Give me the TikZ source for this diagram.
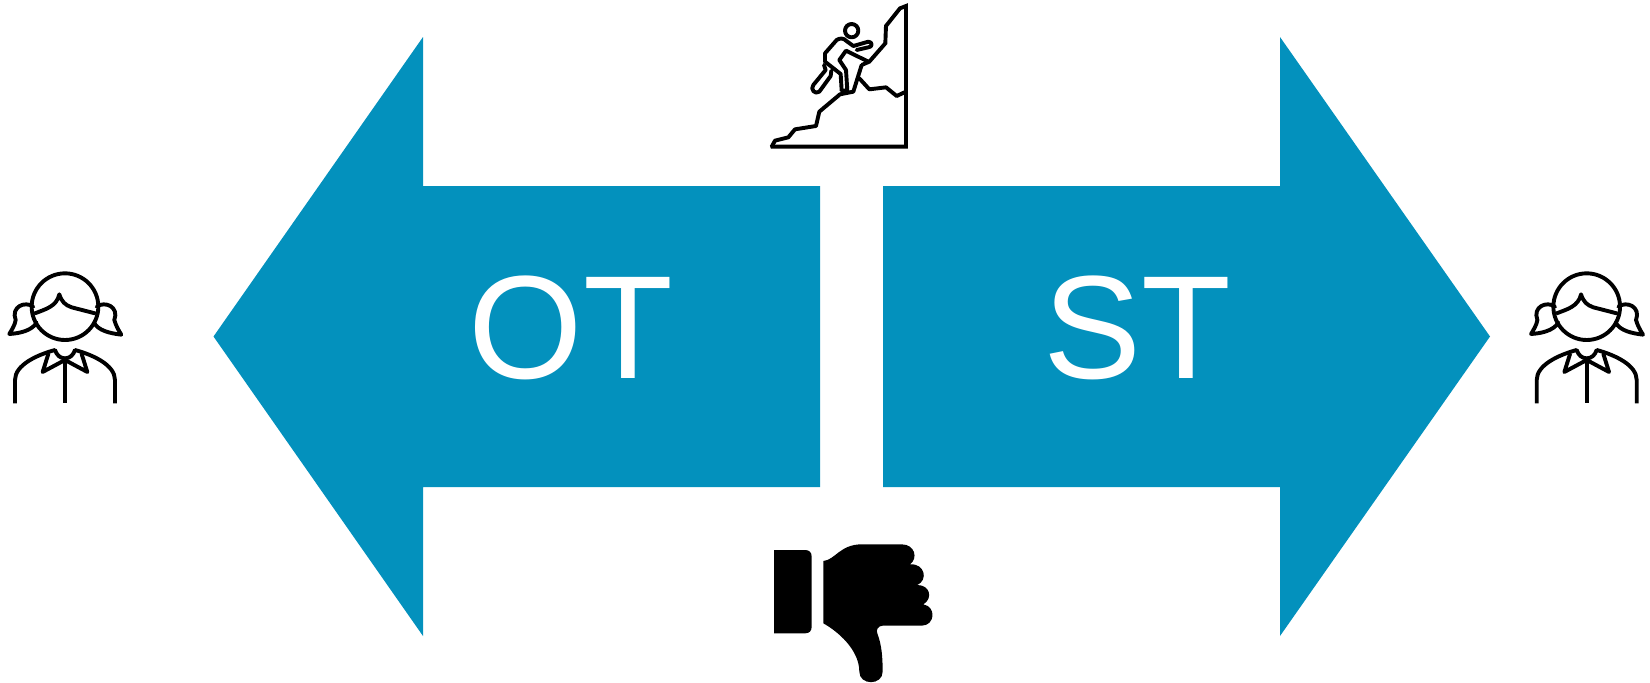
\documentclass[tikz,border=0pt]{standalone}
\usepackage{fontspec}
\setmainfont{Liberation Sans}
\definecolor{arrowblue}{HTML}{0391BD}
\tikzset{
  arrowshape/.style={fill=arrowblue,draw=none},
  bigtext/.style={text=white,inner sep=0pt,anchor=base,font=\fontsize{147}{147}\selectfont},
  iconline/.style={draw=black,line width=3.9pt,line join=round,line cap=round,fill=none},
  iconfill/.style={fill=black,draw=none},
  pics/person/.style={code={
    \draw[iconline] (195,140) circle (100);
    \draw[iconline] (105,160) .. controls (135,148) and (170,140) .. (178,103) .. controls (185,125) and (195,135) .. (215,142) -- (285,160);
    \draw[iconline] (100,140) .. controls (75,122) and (32,140) .. (47,180) .. controls (45,195) and (35,210) .. (28,222) .. controls (60,220) and (95,212) .. (110,188);
    \draw[iconline] (290,140) .. controls (315,122) and (358,140) .. (343,180) .. controls (347,195) and (355,210) .. (364,224) .. controls (330,220) and (295,212) .. (282,188);
    \draw[iconline,line cap=butt] (45,430) -- (45,360) .. controls (45,315) and (110,285) .. (165,270);
    \draw[iconline,line cap=butt] (345,430) -- (345,360) .. controls (345,315) and (280,285) .. (225,270);
    \draw[iconline] (165,270) .. controls (170,285) and (180,295) .. (195,295) .. controls (210,295) and (220,285) .. (225,270);
    \draw[iconline] (145,282) -- (128,336) -- (195,300) -- (262,336) -- (245,282);
    \draw[iconline,line cap=butt] (195,298) -- (195,430);
  }}
}
\begin{document}
\begin{tikzpicture}[x=1pt,y=-1pt]
\useasboundingbox (0,0) rectangle (1650,683);
% arrows
\fill[arrowshape] (213.5,336.5) -- (423,37) -- (423,186) -- (820,186) -- (820,487) -- (423,487) -- (423,636) -- cycle;
\fill[arrowshape] (1490,336.5) -- (1280,37) -- (1280,186) -- (883,186) -- (883,487) -- (1280,487) -- (1280,636) -- cycle;
\node[bigtext] (ot) at (571,378) {OT};
\node[bigtext] (st) at (1137,378) {ST};
% persons
\begin{scope}[shift={(0,260)},x=0.3333pt,y=-0.3333pt]
\pic (personL) at (0,0) {person};
\end{scope}
\begin{scope}[shift={(1521.7,260)},x=0.3333pt,y=-0.3333pt]
\pic (personR) at (0,0) {person};
\end{scope}
% climber
\begin{scope}[shift={(760,0)},x=0.3333pt,y=-0.3333pt]
\draw[iconline,line cap=butt,line join=miter] (33,440) -- (438,440) -- (438,18) -- (420,25) -- (378,78) -- (376,130) -- (328,185) -- (305,195);
\draw[iconline] (35,440) -- (45,422) -- (85,412) -- (105,388) -- (168,378) -- (178,335) -- (240,283) -- (280,275) -- (305,195);
\draw[iconline] (298,235) -- (328,268) -- (378,262) -- (410,288) -- (438,275);
\draw[iconline] (275,92) circle (20);
\draw[iconline] (325,185) -- (258,152) -- (238,180) -- (258,210) -- (262,272) -- (245,272) -- (242,222) -- (195,185) -- (195,160) -- (230,120) .. controls (238,114) and (252,114) .. (258,122) -- (280,138) -- (325,125) .. controls (338,125) and (338,142) .. (325,142) -- (290,150);
\draw[iconline] (192,195) -- (197,210) -- (160,255) .. controls (150,268) and (165,285) .. (178,275) -- (212,228) -- (214,212);
\end{scope}
% thumb down
\begin{scope}[shift={(760,535)},x=0.3333pt,y=-0.3333pt]
\fill[iconfill] (42,45) -- (135,45) .. controls (148,45) and (155,52) .. (155,65) -- (155,275) .. controls (155,288) and (148,295) .. (135,295) -- (42,295) -- cycle;
\fill[iconfill] (190,78) .. controls (225,75) and (240,28) .. (305,28) -- (425,28) .. controls (465,28) and (475,70) .. (450,88) .. controls (495,85) and (505,135) .. (472,150) .. controls (510,150) and (520,190) .. (490,208) .. controls (530,215) and (525,272) .. (485,272) -- (368,272) .. controls (355,272) and (347,285) .. (352,295) .. controls (365,330) and (368,365) .. (368,410) .. controls (368,452) and (298,452) .. (298,410) .. controls (298,345) and (235,290) .. (190,265) -- cycle;
\end{scope}
\end{tikzpicture}
\end{document}
